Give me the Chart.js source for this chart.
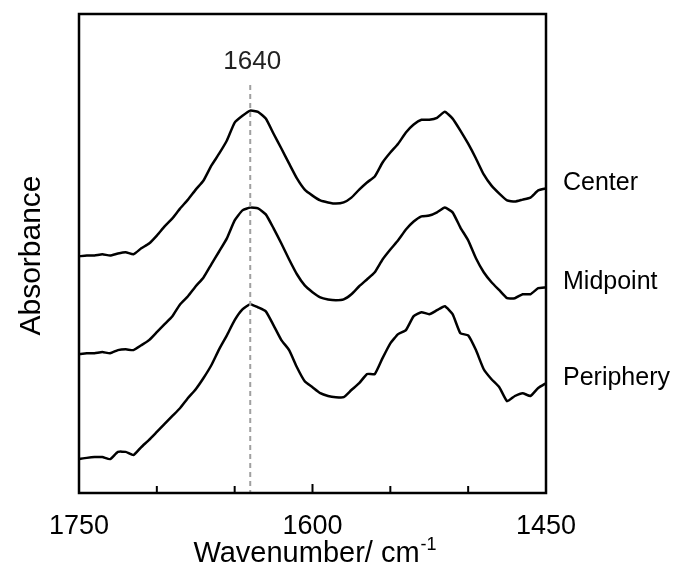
<!DOCTYPE html>
<html>
<head>
<meta charset="utf-8">
<script src="https://cdn.jsdelivr.net/npm/chart.js@4.4.0/dist/chart.umd.min.js"></script>
<style>
  html, body { margin: 0; padding: 0; background: #fff; }
  #wrap { position: relative; width: 684px; height: 569px; }
</style>
</head>
<body>
<div id="wrap"><canvas id="ir-chart" width="684" height="569"></canvas></div>
<script>
// wavenumber grid (cm-1), every 5 cm-1
const wavenumbers = [
  1750, 1745, 1740, 1735, 1730, 1725, 1720, 1715, 1710, 1705,
  1700, 1695, 1690, 1685, 1680, 1675, 1670, 1665, 1660, 1655,
  1650, 1645, 1640, 1635, 1630, 1625, 1620, 1615, 1610, 1605,
  1600, 1595, 1590, 1585, 1580, 1575, 1570, 1565, 1560, 1555,
  1550, 1545, 1540, 1535, 1530, 1525, 1520, 1515, 1510, 1505,
  1500, 1495, 1490, 1485, 1480, 1475, 1470, 1465, 1460, 1455, 1450
];

// absorbance (arb. units, spectra already offset as plotted)
const center = [
  0.593, 0.595, 0.595, 0.598, 0.595, 0.600, 0.603, 0.598, 0.613, 0.625,
  0.645, 0.668, 0.688, 0.713, 0.735, 0.760, 0.783, 0.820, 0.850, 0.883,
  0.928, 0.945, 0.958, 0.955, 0.938, 0.900, 0.863, 0.825, 0.788, 0.760,
  0.745, 0.733, 0.728, 0.725, 0.728, 0.740, 0.760, 0.778, 0.793, 0.828,
  0.853, 0.875, 0.903, 0.923, 0.935, 0.935, 0.940, 0.955, 0.938, 0.908,
  0.875, 0.838, 0.798, 0.770, 0.750, 0.733, 0.730, 0.735, 0.740, 0.758, 0.763
];
const midpoint = [
  0.348, 0.350, 0.350, 0.353, 0.350, 0.358, 0.360, 0.358, 0.370, 0.383,
  0.403, 0.423, 0.443, 0.473, 0.493, 0.518, 0.540, 0.573, 0.605, 0.638,
  0.683, 0.708, 0.715, 0.713, 0.698, 0.663, 0.625, 0.585, 0.548, 0.520,
  0.503, 0.490, 0.485, 0.483, 0.485, 0.498, 0.518, 0.535, 0.553, 0.585,
  0.610, 0.633, 0.660, 0.680, 0.693, 0.695, 0.703, 0.715, 0.703, 0.665,
  0.633, 0.588, 0.553, 0.528, 0.508, 0.488, 0.488, 0.498, 0.498, 0.513, 0.515
];
const periphery = [
  0.085, 0.088, 0.090, 0.090, 0.085, 0.103, 0.103, 0.095, 0.115, 0.133,
  0.153, 0.173, 0.193, 0.213, 0.238, 0.260, 0.288, 0.320, 0.360, 0.395,
  0.433, 0.460, 0.473, 0.465, 0.455, 0.420, 0.383, 0.358, 0.315, 0.280,
  0.265, 0.250, 0.243, 0.240, 0.240, 0.258, 0.275, 0.298, 0.298, 0.338,
  0.375, 0.398, 0.408, 0.443, 0.453, 0.448, 0.458, 0.468, 0.448, 0.400,
  0.395, 0.358, 0.310, 0.285, 0.265, 0.230, 0.243, 0.250, 0.243, 0.263, 0.275
];

const seriesNames = ['Center', 'Midpoint', 'Periphery'];
const minorTicks = [1750, 1700, 1650, 1600, 1550, 1500, 1450];
const tickLabels = [1750, 1600, 1450];
const markerWn = 1640;

const toPoints = (ys) => wavenumbers.map((x, i) => ({ x: x, y: ys[i] }));

// frame, inward ticks, titles, marker line and series labels
const decorations = {
  id: 'decorations',
  afterDraw(chart) {
    const { ctx, chartArea: a, scales: { x, y } } = chart;
    ctx.save();

    // dashed marker at 1640
    const mx = x.getPixelForValue(markerWn);
    ctx.strokeStyle = '#a0a0a0';
    ctx.lineWidth = 2;
    ctx.setLineDash([5, 4]);
    ctx.beginPath();
    ctx.moveTo(mx, 85);
    ctx.lineTo(mx, a.bottom);
    ctx.stroke();
    ctx.setLineDash([]);

    ctx.fillStyle = '#222';
    ctx.font = '26px "Liberation Sans", Arial, sans-serif';
    ctx.textAlign = 'center';
    ctx.textBaseline = 'alphabetic';
    ctx.fillText(String(markerWn), mx + 2, 69);

    // frame
    ctx.strokeStyle = '#000';
    ctx.lineWidth = 2.5;
    ctx.strokeRect(a.left, a.top, a.right - a.left, a.bottom - a.top);

    // ticks inside
    ctx.lineWidth = 2;
    minorTicks.forEach((v) => {
      const px = x.getPixelForValue(v);
      const len = tickLabels.includes(v) ? 9 : 7;
      ctx.beginPath();
      ctx.moveTo(px, a.bottom);
      ctx.lineTo(px, a.bottom - len);
      ctx.stroke();
    });

    // tick labels
    ctx.fillStyle = '#000';
    ctx.font = '27px "Liberation Sans", Arial, sans-serif';
    tickLabels.forEach((v) => {
      ctx.fillText(String(v), x.getPixelForValue(v), 534);
    });

    // x title with superscript
    const main = 'Wavenumber/ cm';
    const sup = '-1';
    ctx.font = '29px "Liberation Sans", Arial, sans-serif';
    const wMain = ctx.measureText(main).width;
    ctx.font = '18px "Liberation Sans", Arial, sans-serif';
    const wSup = ctx.measureText(sup).width;
    const cx = (a.left + a.right) / 2 + 2;
    const startX = cx - (wMain + wSup) / 2;
    ctx.textAlign = 'left';
    ctx.font = '29px "Liberation Sans", Arial, sans-serif';
    ctx.fillText(main, startX, 562);
    ctx.font = '18px "Liberation Sans", Arial, sans-serif';
    ctx.fillText(sup, startX + wMain + 1, 550);

    // y title
    ctx.save();
    ctx.translate(32, (a.top + a.bottom) / 2 + 2);
    ctx.rotate(-Math.PI / 2);
    ctx.textAlign = 'center';
    ctx.textBaseline = 'middle';
    ctx.font = '30px "Liberation Sans", Arial, sans-serif';
    ctx.fillText('Absorbance', 0, 0);
    ctx.restore();

    // series labels right of the frame
    ctx.textAlign = 'left';
    ctx.textBaseline = 'alphabetic';
    ctx.font = '25px "Liberation Sans", Arial, sans-serif';
    chart.data.datasets.forEach((ds) => {
      const last = ds.data[ds.data.length - 1];
      ctx.fillText(ds.label, a.right + 17, y.getPixelForValue(last.y) + 2);
    });

    ctx.restore();
  }
};

new Chart(document.getElementById('ir-chart'), {
  type: 'line',
  data: {
    datasets: [center, midpoint, periphery].map((ys, i) => ({
      label: seriesNames[i],
      data: toPoints(ys),
      borderColor: '#000',
      borderWidth: 2.5,
      pointRadius: 0,
      tension: 0.15,
      fill: false,
    })),
  },
  options: {
    responsive: false,
    animation: false,
    layout: { padding: { left: 79, right: 138, top: 14, bottom: 76 } },
    scales: {
      x: { type: 'linear', reverse: true, min: 1450, max: 1750, display: false },
      y: { type: 'linear', min: 0, max: 1.2, display: false },
    },
    plugins: {
      legend: { display: false },
      tooltip: { enabled: false },
    },
  },
  plugins: [decorations],
});
</script>
</body>
</html>
